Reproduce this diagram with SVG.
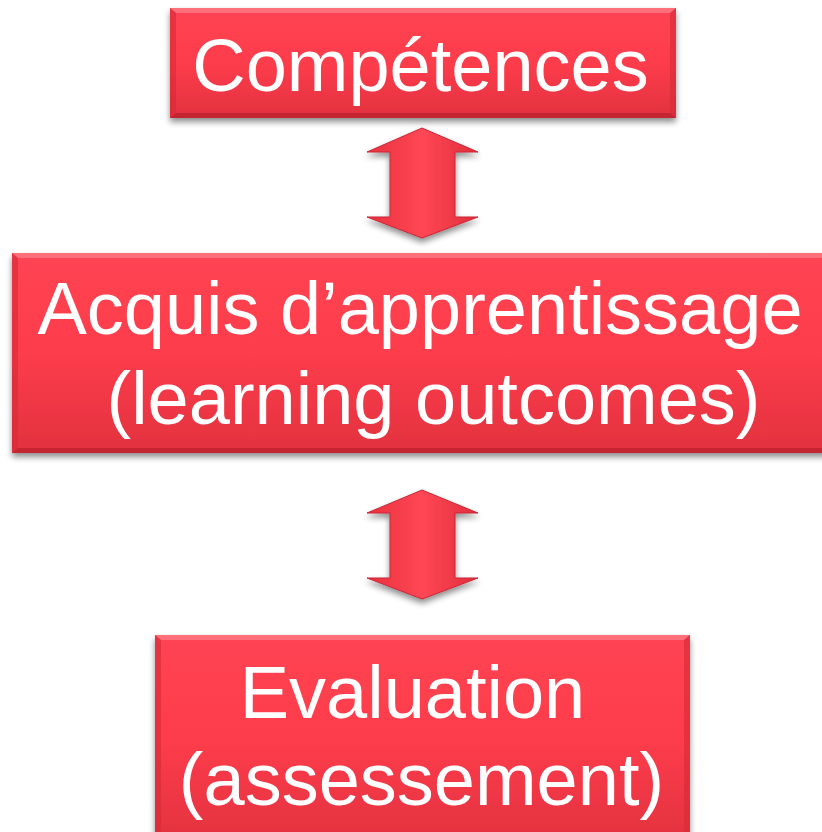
<svg xmlns="http://www.w3.org/2000/svg" width="822" height="832" viewBox="0 0 822 832">
  <style>
    .lbl { font-family: "Liberation Sans", Arial, sans-serif; font-size: 74px; fill: #ffffff; text-anchor: middle; }
    .face { fill: url(#boxGrad); }
    .bevT { fill: #ff7a86; opacity: 0.8; }
    .bevB { fill: #b8202c; opacity: 0.7; }
    .bevS { fill: #d52a38; opacity: 0.6; }
    .arrow { fill: url(#arrGrad); stroke: #c92634; stroke-width: 1; }
  </style>
  <defs>
    <linearGradient id="boxGrad" x1="0" y1="0" x2="0" y2="1">
      <stop offset="0" stop-color="#ff4453"/>
      <stop offset="0.5" stop-color="#fd3c4b"/>
      <stop offset="1" stop-color="#e2323f"/>
    </linearGradient>
    <linearGradient id="arrGrad" x1="0" y1="0" x2="1" y2="0">
      <stop offset="0" stop-color="#e8313f"/>
      <stop offset="0.5" stop-color="#ff4755"/>
      <stop offset="1" stop-color="#e02e3c"/>
    </linearGradient>
    <filter id="shadow" x="-10%" y="-10%" width="120%" height="130%">
      <feGaussianBlur in="SourceAlpha" stdDeviation="3"/>
      <feOffset dx="0" dy="4" result="b"/>
      <feComponentTransfer><feFuncA type="linear" slope="0.45"/></feComponentTransfer>
      <feMerge><feMergeNode/><feMergeNode in="SourceGraphic"/></feMerge>
    </filter>
  </defs>

  <g id="connectors">
    <polygon class="arrow" filter="url(#shadow)" points="422,128 478,152 455,152 455,217 478,217 422,238 367,217 390,217 390,152 367,152"/>
    <polygon class="arrow" filter="url(#shadow)" points="422,490 478,513 455,513 455,578 478,578 422,599 367,578 390,578 390,513 367,513"/>
  </g>

  <g id="node-competences">
    <g filter="url(#shadow)">
      <rect class="face" x="170" y="8" width="506" height="110"/>
    </g>
    <polygon class="bevT" points="170,8 676,8 670,13 176,13"/>
    <polygon class="bevS" points="170,8 176,13 176,113 170,118"/>
    <polygon class="bevS" points="676,8 670,13 670,113 676,118"/>
    <polygon class="bevB" points="170,118 676,118 670,113 176,113"/>
    <text class="lbl" x="420.5" y="91">Compétences</text>
  </g>

  <g id="node-acquis">
    <g filter="url(#shadow)">
      <rect class="face" x="12" y="253" width="816" height="200"/>
    </g>
    <polygon class="bevT" points="12,253 828,253 822,258 18,258"/>
    <polygon class="bevS" points="12,253 18,258 18,448 12,453"/>
    <polygon class="bevB" points="12,453 828,453 822,448 18,448"/>
    <text class="lbl" x="420" y="334">Acquis d’apprentissage</text>
    <text class="lbl" x="433.5" y="424">(learning outcomes)</text>
  </g>

  <g id="node-evaluation">
    <g filter="url(#shadow)">
      <rect class="face" x="155" y="635" width="535" height="210"/>
    </g>
    <polygon class="bevT" points="155,635 690,635 684,640 161,640"/>
    <polygon class="bevS" points="155,635 161,640 161,840 155,840"/>
    <polygon class="bevS" points="690,635 684,640 684,840 690,840"/>
    <text class="lbl" x="412.5" y="718">Evaluation</text>
    <text class="lbl" x="421.5" y="805">(assessement)</text>
  </g>
</svg>
